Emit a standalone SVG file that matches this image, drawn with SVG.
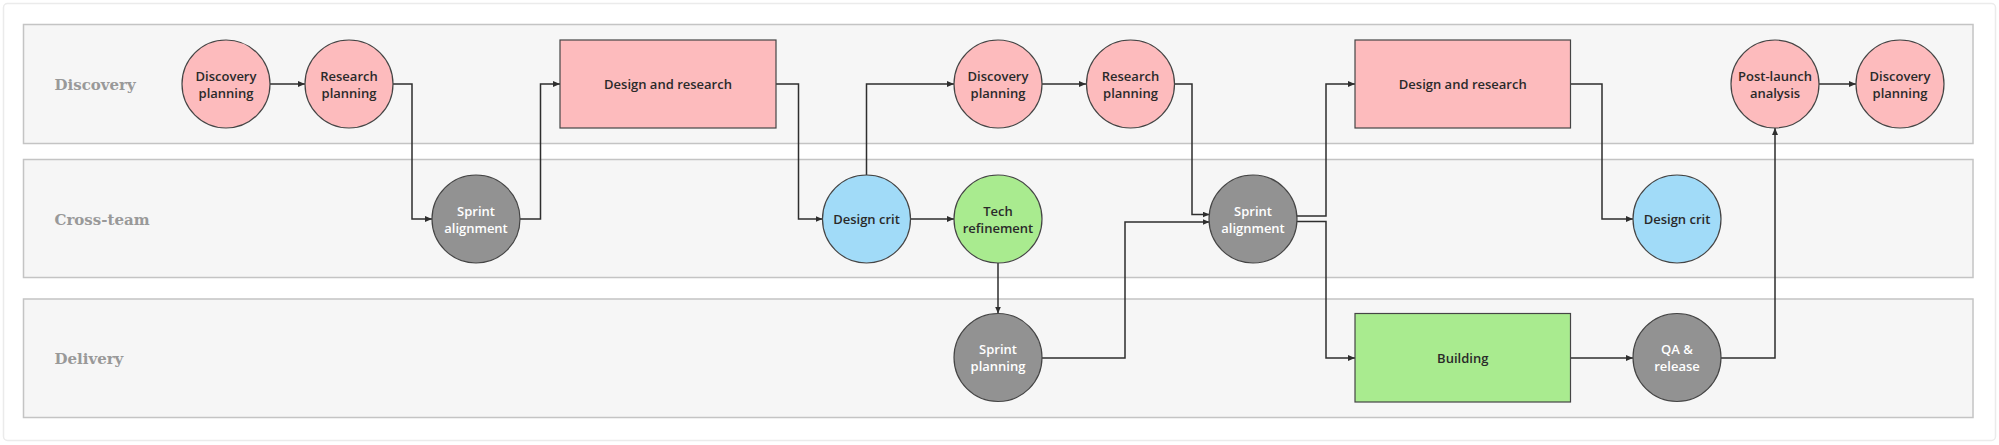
<svg xmlns="http://www.w3.org/2000/svg" width="1999" height="445" viewBox="0 0 1999 445">
  <defs>
    <marker id="arr" viewBox="0 0 7 6" refX="7" refY="3" markerWidth="7" markerHeight="6" markerUnits="userSpaceOnUse" orient="auto">
      <path d="M0,0 L7,3 L0,6 z" fill="#2e2e2e"/>
    </marker>
    <style>
      .lane { fill: #f6f6f6; stroke: #c4c4c4; stroke-width: 1.5; }
      .lbl { font-family: "DejaVu Serif", "Liberation Serif", serif; font-weight: 700; font-size: 15px; fill: #999999; }
      .n { stroke: #454545; stroke-width: 1.2; }
      .pink { fill: #fdbbbd; }
      .blue { fill: #a1dbf8; }
      .green { fill: #a9eb8f; }
      .gray { fill: #929292; }
      .t { font-family: "Open Sans", Lato, sans-serif; font-weight: 600; font-size: 13px; text-anchor: middle; fill: #2a2a2a; }
      .tw { fill: #ffffff; }
      .c { fill: none; stroke: #2e2e2e; stroke-width: 1.5; marker-end: url(#arr); }
    </style>
  </defs>
  <rect x="3.5" y="3.5" width="1992" height="437" rx="4" fill="#ffffff" stroke="#ebebeb" stroke-width="1.5"/>
  <g id="lanes">
    <rect class="lane" x="23.5" y="24.5" width="1949.5" height="119"/>
    <rect class="lane" x="23.5" y="159.5" width="1949.5" height="118"/>
    <rect class="lane" x="23.5" y="299" width="1949.5" height="118.5"/>
    <text class="lbl" x="54.5" y="90">Discovery</text>
    <text class="lbl" x="54.5" y="225">Cross-team</text>
    <text class="lbl" x="54.5" y="364">Delivery</text>
  </g>
  <g id="connectors">
    <path class="c" d="M270,84 H305"/>
    <path class="c" d="M393,84 H412 V219 H432"/>
    <path class="c" d="M520,219 H540.5 V84 H560"/>
    <path class="c" d="M776,84 H798.5 V219 H822.5"/>
    <path class="c" d="M866.5,175 V84 H954"/>
    <path class="c" d="M910.5,219 H954"/>
    <path class="c" d="M998,263 V313.5"/>
    <path class="c" d="M1042,84 H1086"/>
    <path class="c" d="M1174.5,84 H1192 V214.5 H1209.5"/>
    <path class="c" d="M1042,358 H1125 V222 H1209.5"/>
    <path class="c" d="M1297,216 H1326 V84 H1355"/>
    <path class="c" d="M1297,221.5 H1326 V358 H1355"/>
    <path class="c" d="M1570.5,84 H1602 V219 H1633"/>
    <path class="c" d="M1570.5,358 H1633"/>
    <path class="c" d="M1721,358 H1775 V128"/>
    <path class="c" d="M1819,84 H1856"/>
  </g>
  <g id="discovery-planning-1">
    <circle class="n pink" cx="226" cy="84" r="44"/>
    <text class="t" x="226" y="80.5">Discovery</text>
    <text class="t" x="226" y="97.5">planning</text>
  </g>
  <g id="research-planning-1">
    <circle class="n pink" cx="349" cy="84" r="44"/>
    <text class="t" x="349" y="80.5">Research</text>
    <text class="t" x="349" y="97.5">planning</text>
  </g>
  <g id="sprint-alignment-1">
    <circle class="n gray" cx="476" cy="219" r="44"/>
    <text class="t tw" x="476" y="215.5">Sprint</text>
    <text class="t tw" x="476" y="232.5">alignment</text>
  </g>
  <g id="design-research-1">
    <rect class="n pink" x="560" y="40" width="216" height="88"/>
    <text class="t" x="668" y="88.5">Design and research</text>
  </g>
  <g id="design-crit-1">
    <circle class="n blue" cx="866.5" cy="219" r="44"/>
    <text class="t" x="866.5" y="223.5">Design crit</text>
  </g>
  <g id="tech-refinement">
    <circle class="n green" cx="998" cy="219" r="44"/>
    <text class="t" x="998" y="215.5">Tech</text>
    <text class="t" x="998" y="232.5">refinement</text>
  </g>
  <g id="discovery-planning-2">
    <circle class="n pink" cx="998" cy="84" r="44"/>
    <text class="t" x="998" y="80.5">Discovery</text>
    <text class="t" x="998" y="97.5">planning</text>
  </g>
  <g id="research-planning-2">
    <circle class="n pink" cx="1130.5" cy="84" r="44"/>
    <text class="t" x="1130.5" y="80.5">Research</text>
    <text class="t" x="1130.5" y="97.5">planning</text>
  </g>
  <g id="sprint-planning">
    <circle class="n gray" cx="998" cy="357.5" r="44"/>
    <text class="t tw" x="998" y="354">Sprint</text>
    <text class="t tw" x="998" y="371">planning</text>
  </g>
  <g id="sprint-alignment-2">
    <circle class="n gray" cx="1253" cy="219" r="44"/>
    <text class="t tw" x="1253" y="215.5">Sprint</text>
    <text class="t tw" x="1253" y="232.5">alignment</text>
  </g>
  <g id="design-research-2">
    <rect class="n pink" x="1355" y="40" width="215.5" height="88"/>
    <text class="t" x="1462.75" y="88.5">Design and research</text>
  </g>
  <g id="building">
    <rect class="n green" x="1355" y="313.5" width="215.5" height="88.5"/>
    <text class="t" x="1462.75" y="362.5">Building</text>
  </g>
  <g id="design-crit-2">
    <circle class="n blue" cx="1677" cy="219" r="44"/>
    <text class="t" x="1677" y="223.5">Design crit</text>
  </g>
  <g id="qa-release">
    <circle class="n gray" cx="1677" cy="357.5" r="44"/>
    <text class="t tw" x="1677" y="354">QA &amp;</text>
    <text class="t tw" x="1677" y="371">release</text>
  </g>
  <g id="post-launch-analysis">
    <circle class="n pink" cx="1775" cy="84" r="44"/>
    <text class="t" x="1775" y="80.5">Post-launch</text>
    <text class="t" x="1775" y="97.5">analysis</text>
  </g>
  <g id="discovery-planning-3">
    <circle class="n pink" cx="1900" cy="84" r="44"/>
    <text class="t" x="1900" y="80.5">Discovery</text>
    <text class="t" x="1900" y="97.5">planning</text>
  </g>
</svg>
